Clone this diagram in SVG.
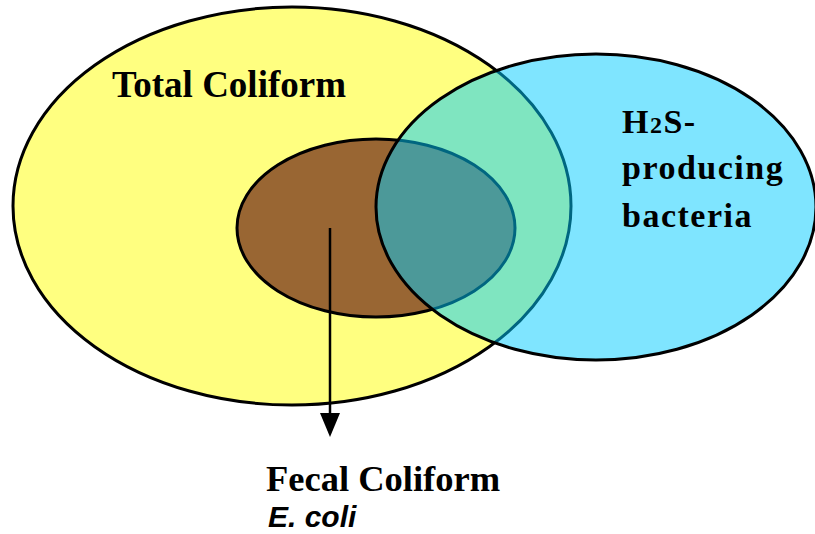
<svg xmlns="http://www.w3.org/2000/svg" width="815" height="534" viewBox="0 0 815 534">
  <style>
    .serif { font-family: "Liberation Serif", "Times New Roman", serif; font-weight: bold; fill: #000; }
    .sans { font-family: "Liberation Sans", Arial, sans-serif; font-weight: bold; font-style: italic; fill: #000; }
    .outline { stroke: #000; stroke-width: 3; }
  </style>
  <rect width="815" height="534" fill="#fff"/>
  <g id="total-coliform">
    <ellipse class="outline" cx="292" cy="206" rx="279" ry="199" fill="#FFFF80"/>
    <text class="serif" x="112" y="97" font-size="37">Total Coliform</text>
  </g>
  <g id="fecal-coliform">
    <ellipse class="outline" cx="376" cy="228" rx="139" ry="89" fill="#996633"/>
  </g>
  <g id="h2s-bacteria">
    <ellipse class="outline" cx="596" cy="207" rx="220" ry="153" fill="#00CCFF" fill-opacity="0.5"/>
    <text class="serif" font-size="34" letter-spacing="1.5">
      <tspan x="622" y="133">H<tspan font-size="24">2</tspan>S-</tspan>
      <tspan x="622" y="179">producing</tspan>
      <tspan x="622" y="227">bacteria</tspan>
    </text>
  </g>
  <g id="connectors">
    <line x1="330" y1="228" x2="330" y2="414" stroke="#000" stroke-width="2.5"/>
    <path d="M320,413 L340,413 L330,437 Z" fill="#000"/>
  </g>
  <g id="fecal-label">
    <text class="serif" x="266" y="491" font-size="36.5">Fecal Coliform</text>
    <text class="sans" x="268" y="527" font-size="30">E. coli</text>
  </g>
</svg>
